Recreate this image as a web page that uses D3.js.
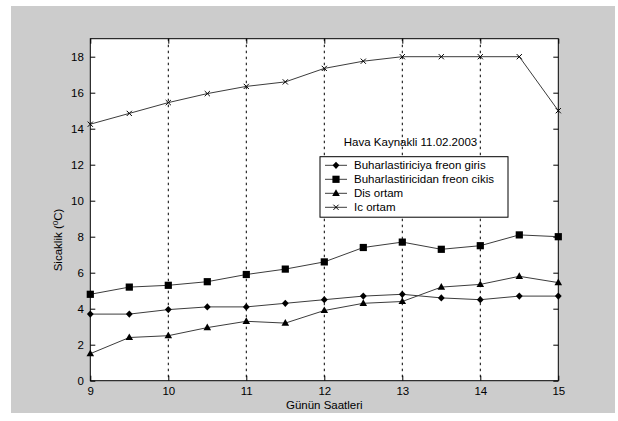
<!DOCTYPE html>
<html>
<head>
<meta charset="utf-8">
<script src="https://cdn.jsdelivr.net/npm/d3@7"></script>
<style>
  body { margin: 0; background: #ffffff; }
  text { font-family: "Liberation Sans", Arial, Helvetica, sans-serif; }
</style>
</head>
<body>
<script>
// Hourly temperature readings, 11.02.2003 (air source)
const hours = [9, 9.5, 10, 10.5, 11, 11.5, 12, 12.5, 13, 13.5, 14, 14.5, 15];
const evapInlet  = [3.7, 3.7, 3.95, 4.1, 4.1, 4.3, 4.5, 4.7, 4.8, 4.6, 4.5, 4.7, 4.7];     // Buharlastiriciya freon giris
const evapOutlet = [4.8, 5.2, 5.3, 5.5, 5.9, 6.2, 6.6, 7.4, 7.7, 7.3, 7.5, 8.1, 8.0];      // Buharlastiricidan freon cikis
const outdoor    = [1.5, 2.4, 2.5, 2.95, 3.3, 3.2, 3.9, 4.3, 4.4, 5.2, 5.35, 5.8, 5.45];   // Dis ortam
const indoor     = [14.25, 14.85, 15.45, 15.95, 16.35, 16.6, 17.35, 17.75, 18, 18, 18, 18, 15]; // Ic ortam

const seriesNames = ["Buharlastiriciya freon giris", "Buharlastiricidan freon cikis", "Dis ortam", "Ic ortam"];
const markerKinds = ["diamond", "square", "triangle", "cross"];

const xTicks = [9, 10, 11, 12, 13, 14, 15];
const yTicks = [0, 2, 4, 6, 8, 10, 12, 14, 16, 18];
const gridHours = [10, 11, 12, 13, 14];

const titleText = "Hava Kaynakli 11.02.2003";
const xLabel = "Günün Saatleri";

const W = 618, H = 421;
const plot = { left: 90.3, right: 558.3, top: 38.7, bottom: 380.7 };
const fontSize = 11.5;

const svg = d3.select("body").append("svg")
  .attr("width", W).attr("height", H);

// figure background
svg.append("rect")
  .attr("x", 11).attr("y", 6).attr("width", 604).attr("height", 407)
  .attr("fill", "#cccccc");

const x = d3.scaleLinear().domain([9, 15]).range([plot.left, plot.right]);
const y = d3.scaleLinear().domain([0, 19]).range([plot.bottom, plot.top]);

// axes area
svg.append("rect")
  .attr("x", plot.left).attr("y", plot.top)
  .attr("width", plot.right - plot.left).attr("height", plot.bottom - plot.top)
  .attr("fill", "#ffffff");

// vertical dashed grid
svg.append("g").selectAll("line").data(gridHours).join("line")
  .attr("x1", d => x(d)).attr("x2", d => x(d))
  .attr("y1", plot.top).attr("y2", plot.bottom)
  .attr("stroke", "#000").attr("stroke-width", 1)
  .attr("stroke-dasharray", "2.5,3.5");

// axes with inward ticks on all four sides
const tickLen = 5;
const bottomAxis = d3.axisBottom(x).tickValues(xTicks).tickSizeInner(-tickLen).tickSizeOuter(0).tickPadding(6).tickFormat(d3.format("d"));
const topAxis = d3.axisTop(x).tickValues(xTicks).tickSizeInner(-tickLen).tickSizeOuter(0).tickFormat("");
const leftAxis = d3.axisLeft(y).tickValues(yTicks).tickSizeInner(-tickLen).tickSizeOuter(0).tickPadding(6.5).tickFormat(d3.format("d"));
const rightAxis = d3.axisRight(y).tickValues(yTicks).tickSizeInner(-tickLen).tickSizeOuter(0).tickFormat("");

function styleAxis(g) {
  g.select(".domain").remove();
  g.selectAll(".tick line").attr("stroke", "#000");
  g.selectAll(".tick text")
    .attr("fill", "#000")
    .style("font-size", fontSize + "px")
    .style("font-family", "'Liberation Sans', Arial, sans-serif");
}

svg.append("g").attr("transform", `translate(0,${plot.bottom})`).call(bottomAxis).call(styleAxis);
svg.append("g").attr("transform", `translate(0,${plot.top})`).call(topAxis).call(styleAxis);
svg.append("g").attr("transform", `translate(${plot.left},0)`).call(leftAxis).call(styleAxis);
svg.append("g").attr("transform", `translate(${plot.right},0)`).call(rightAxis).call(styleAxis);

// axes box
svg.append("rect")
  .attr("x", plot.left).attr("y", plot.top)
  .attr("width", plot.right - plot.left).attr("height", plot.bottom - plot.top)
  .attr("fill", "none").attr("stroke", "#000").attr("stroke-width", 1);

// marker shapes
function markerPath(kind) {
  switch (kind) {
    case "diamond":  return "M0,-3.6L3.4,0L0,3.6L-3.4,0Z";
    case "square":   return "M-3.6,-3.6H3.6V3.6H-3.6Z";
    case "triangle": return "M0,-4L3.8,2.6H-3.8Z";
    case "cross":    return "M-2.6,-2.6L2.6,2.6M-2.6,2.6L2.6,-2.6";
  }
}

function drawMarker(g, kind, cx, cy) {
  const p = g.append("path")
    .attr("d", markerPath(kind))
    .attr("transform", `translate(${cx},${cy})`);
  if (kind === "cross") p.attr("fill", "none").attr("stroke", "#000").attr("stroke-width", 1);
  else p.attr("fill", "#000").attr("stroke", "none");
}

const allSeries = [evapInlet, evapOutlet, outdoor, indoor];
const line = d3.line().x(d => x(d[0])).y(d => y(d[1]));

allSeries.forEach((vals, i) => {
  const pts = hours.map((h, j) => [h, vals[j]]);
  const g = svg.append("g");
  g.append("path")
    .attr("d", line(pts))
    .attr("fill", "none").attr("stroke", "#3c3c3c").attr("stroke-width", 1);
  pts.forEach(p => drawMarker(g, markerKinds[i], x(p[0]), y(p[1])));
});

// annotation text
svg.append("text")
  .attr("x", x(12.25)).attr("y", y(13.05))
  .attr("fill", "#000")
  .style("font-size", fontSize + "px")
  .text(titleText);

// legend
const lg = { x: 320, y: 156.7, w: 188, h: 60.5 };
const legend = svg.append("g");
legend.append("rect")
  .attr("x", lg.x).attr("y", lg.y).attr("width", lg.w).attr("height", lg.h)
  .attr("fill", "#fff").attr("stroke", "#000").attr("stroke-width", 1);
seriesNames.forEach((name, i) => {
  const ry = lg.y + 8.6 + i * 14;
  legend.append("line")
    .attr("x1", lg.x + 5).attr("x2", lg.x + 27)
    .attr("y1", ry).attr("y2", ry)
    .attr("stroke", "#3c3c3c").attr("stroke-width", 1);
  drawMarker(legend, markerKinds[i], lg.x + 16, ry);
  legend.append("text")
    .attr("x", lg.x + 34).attr("y", ry + 4)
    .attr("fill", "#000")
    .style("font-size", fontSize + "px")
    .text(name);
});

// axis labels
svg.append("text")
  .attr("x", (plot.left + plot.right) / 2).attr("y", 408.5)
  .attr("text-anchor", "middle").attr("fill", "#000")
  .style("font-size", fontSize + "px")
  .text(xLabel);

const yl = svg.append("text")
  .attr("transform", `translate(62,240) rotate(-90)`)
  .attr("text-anchor", "middle").attr("fill", "#000")
  .style("font-size", fontSize + "px");
yl.append("tspan").text("Sicaklik (");
yl.append("tspan").attr("dy", -4).style("font-size", "8px").text("0");
yl.append("tspan").attr("dy", 4).text("C)");
</script>
</body>
</html>
